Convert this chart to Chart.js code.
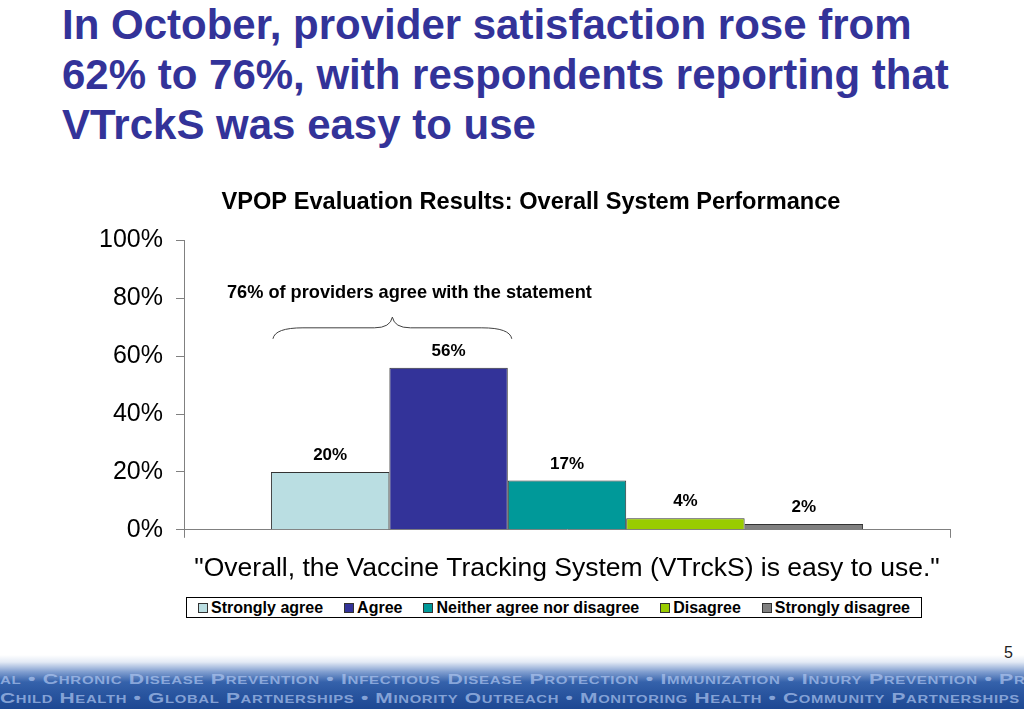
<!DOCTYPE html>
<html>
<head>
<meta charset="utf-8">
<script src="https://cdn.jsdelivr.net/npm/chart.js@4.4.1/dist/chart.umd.min.js"></script>
<style>
    html, body { margin: 0; padding: 0; background: #fff; }
    body { width: 1024px; height: 709px; position: relative; overflow: hidden; font-family: 'Liberation Sans', Arial, sans-serif; }
    #heading {
        position: absolute; left: 62px; top: 0; margin: 0;
        font-size: 42px; line-height: 50px; font-weight: bold; color: #333399;
    }
    #chartBox { position: absolute; left: 60px; top: 181px; width: 944px; height: 410px; }
    #legend {
        position: absolute; left: 186px; top: 597px; width: 734px; height: 19px;
        border: 1px solid #000; display: flex; justify-content: center; align-items: center; gap: 21px;
        font-size: 16px; font-weight: bold; color: #000;
    }
    #legend .item { display: flex; align-items: center; white-space: nowrap; }
    #legend .swatch { width: 8px; height: 8px; border: 1px solid #333; margin-right: 3px; }
    #pageNum { position: absolute; right: 11px; top: 644px; font-size: 16px; color: #222; z-index: 2; }
    #banner {
        position: absolute; left: 0; top: 655px; width: 1024px; height: 54px; overflow: hidden;
        background: linear-gradient(#ffffff 0px, #e3eaf5 7px, #7f9dcf 17px, #3562ab 27px, #2a56a0 38px, #1d4893 54px);
    }
    #banner .line {
        position: absolute; left: 0; white-space: nowrap; transform-origin: left center;
        font-size: 15.5px; font-weight: bold; font-variant: small-caps; letter-spacing: 0.5px;
        color: rgba(175, 198, 240, 0.7);
    }
</style>
</head>
<body>
<h1 id="heading">In October, provider satisfaction rose from<br>62% to 76%, with respondents reporting that<br>VTrckS was easy to use</h1>

<div id="chartBox"><canvas id="evalChart" width="944" height="410"></canvas></div>
<div id="legend"></div>
<div id="pageNum">5</div>
<div id="banner">
    <div class="line" id="bannerLine1" style="top: 15px;">al • Chronic Disease Prevention • Infectious Disease Protection • Immunization • Injury Prevention • Pri</div>
    <div class="line" id="bannerLine2" style="top: 34px;">Child Health • Global Partnerships • Minority Outreach • Monitoring Health • Community Partnerships</div>
</div>

<script>
// chart data
const responses = ['Strongly agree', 'Agree', 'Neither agree nor disagree', 'Disagree', 'Strongly disagree'];
const percentages = [20, 56, 17, 4, 2];
const barColors = ['#BADEE2', '#333399', '#009999', '#99CC00', '#808080'];
const statement = '"Overall, the Vaccine Tracking System (VTrckS) is easy to use."';
const chartTitle = 'VPOP Evaluation Results: Overall System Performance';
const braceNote = '76% of providers agree with the statement';
const yMin = 0;
const yMax = 100;
const yStep = 20;

Chart.defaults.font.family = "'Liberation Sans', Arial, sans-serif";
Chart.defaults.color = '#000';

// value labels above each bar
const valueLabels = {
    id: 'valueLabels',
    afterDatasetsDraw(chart) {
        const ctx = chart.ctx;
        ctx.save();
        ctx.font = 'bold 17px "Liberation Sans", Arial, sans-serif';
        ctx.fillStyle = '#000';
        ctx.textAlign = 'center';
        ctx.textBaseline = 'middle';
        chart.data.datasets.forEach((ds, i) => {
            const bar = chart.getDatasetMeta(i).data[0];
            ctx.fillText(ds.data[0] + '%', bar.x, bar.y - 16.5);
        });
        ctx.restore();
    }
};

// curly brace over the two "agree" bars with its note
const agreeBrace = {
    id: 'agreeBrace',
    afterDatasetsDraw(chart) {
        const ctx = chart.ctx;
        const y = chart.scales.y;
        const b0 = chart.getDatasetMeta(0).data[0];
        const b1 = chart.getDatasetMeta(1).data[0];
        const left = b0.x - b0.width / 2 + 2;
        const right = b1.x + b1.width / 2 + 4;
        const tipX = (left + right) / 2;
        const tipY = y.getPixelForValue(73.5);
        const midY = y.getPixelForValue(69.8);
        const endY = y.getPixelForValue(66);

        ctx.save();
        ctx.strokeStyle = '#404040';
        ctx.lineWidth = 1;
        ctx.beginPath();
        ctx.moveTo(left, endY);
        ctx.quadraticCurveTo(left + 2, midY, left + 30, midY);
        ctx.lineTo(tipX - 18, midY);
        ctx.quadraticCurveTo(tipX - 2, midY, tipX, tipY);
        ctx.quadraticCurveTo(tipX + 2, midY, tipX + 18, midY);
        ctx.lineTo(right - 30, midY);
        ctx.quadraticCurveTo(right - 2, midY, right, endY);
        ctx.stroke();

        ctx.font = 'bold 18.2px "Liberation Sans", Arial, sans-serif';
        ctx.fillStyle = '#000';
        ctx.textAlign = 'center';
        ctx.textBaseline = 'middle';
        ctx.fillText(braceNote, tipX + 17, y.getPixelForValue(81.7));
        ctx.restore();
    }
};

new Chart(document.getElementById('evalChart'), {
    type: 'bar',
    data: {
        labels: [''],
        datasets: responses.map((r, i) => ({
            label: r,
            data: [percentages[i]],
            backgroundColor: barColors[i],
            borderColor: '#333',
            borderWidth: 1,
            categoryPercentage: 0.773,
            barPercentage: 1
        }))
    },
    options: {
        responsive: false,
        animation: false,
        devicePixelRatio: 1,
        layout: { padding: { top: 7.2, left: 0, right: 2, bottom: 6.4 } },
        plugins: {
            legend: { display: false },
            tooltip: { enabled: false },
            title: {
                display: true,
                text: chartTitle,
                font: { size: 23.6, weight: 'bold' },
                color: '#000',
                padding: { top: 0, bottom: 23.9 }
            }
        },
        scales: {
            x: {
                grid: { drawOnChartArea: false, tickLength: 8, color: '#808080', offset: true },
                border: { color: '#808080' },
                ticks: { display: false },
                title: {
                    display: true,
                    text: statement,
                    font: { size: 26.5 },
                    color: '#000',
                    padding: { top: 0, bottom: 0 }
                },
                afterFit(scale) { scale.height = 54.8; }
            },
            y: {
                min: yMin,
                max: yMax,
                grid: { drawOnChartArea: false, tickLength: 8, color: '#808080' },
                border: { color: '#808080' },
                ticks: {
                    stepSize: yStep,
                    padding: 13,
                    font: { size: 25 },
                    color: '#000',
                    callback: v => v + '%'
                },
                afterFit(scale) { scale.width = 124; }
            },
            // empty right-hand margin so the title centres over the whole chart object
            yRight: {
                type: 'linear',
                position: 'right',
                grid: { display: false },
                border: { display: false },
                ticks: { display: false },
                afterFit(scale) { scale.width = 52; }
            }
        }
    },
    plugins: [valueLabels, agreeBrace]
});

// boxed legend below the chart
const legendEl = document.getElementById('legend');
responses.forEach((r, i) => {
    const item = document.createElement('div');
    item.className = 'item';
    item.innerHTML = `<span class="swatch" style="background:${barColors[i]}"></span>${r}`;
    legendEl.appendChild(item);
});

// stretch banner lines across the page
function fitLine(id, target) {
    const el = document.getElementById(id);
    const w = el.scrollWidth;
    el.style.transform = `scaleX(${target / w})`;
}
fitLine('bannerLine1', 1030);
fitLine('bannerLine2', 1020);
</script>
</body>
</html>
